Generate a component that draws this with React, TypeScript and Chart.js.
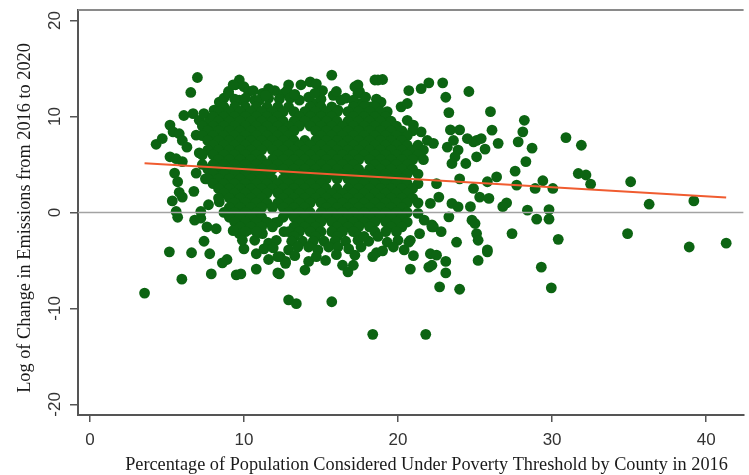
import { useEffect, useRef } from 'react';
import { Chart, registerables } from 'chart.js';
Chart.register(...registerables);

const xTicks = [0, 10, 20, 30, 40];
const yTicks = [-20, -10, 0, 10, 20];
const xTitle = 'Percentage of Population Considered Under Poverty Threshold by County in 2016';
const yTitle = 'Log of Change in Emissions from 2016 to 2020';

const fitX = [3.55, 41.3];
const fitY = [5.13, 1.55];

type P = [number, number];

const leftTail: P[] = [
  [3.55, -8.4], [4.3, 7.1], [4.7, 7.7], [5.2, 9.1], [5.4, 8.4], [5.8, 8.2], [6.0, 7.5],
  [6.1, 10.1], [6.7, 10.3], [7.1, 9.6], [7.4, 10.3], [7.7, 9.4], [6.55, 12.5], [6.98, 14.06],
  [5.2, 5.8], [5.6, 5.6], [6.0, 5.3], [6.3, 6.8], [6.9, 8.05], [7.5, 8.05], [7.1, 6.2],
  [5.5, 4.1], [5.7, 3.2], [5.8, 2.1], [6.0, 1.6], [5.35, 1.2], [5.6, 0.1],
  [6.9, 4.1], [6.75, 2.2], [7.5, 3.5],
  [5.7, -0.5], [6.8, -0.8], [7.2, -0.6], [7.6, -1.5], [8.2, -1.7], [7.2, 0.1], [7.7, 0.8], [8.4, 1.1],
  [5.16, -4.1], [5.97, -6.95], [6.6, -4.2], [7.78, -4.3], [7.41, -3.0], [7.88, -6.4], [8.6, -5.25],
  [8.9, -4.9], [9.5, -6.5], [9.8, -6.4], [10.0, -3.8], [10.8, -4.3], [10.8, -5.9], [11.6, -4.9],
  [12.3, -6.4], [12.9, -9.1], [13.4, -9.5],
  [9.45, -0.3], [9.7, -2.2], [10.3, -1.8], [10.7, -2.9], [11.2, -2.2], [11.6, -3.2], [12.1, -2.9],
  [12.6, -2.0], [12.0, -1.1], [12.35, -4.6], [12.7, -5.1],
];

const upperEdge: P[] = [
  [8.06, 10.66], [8.4, 11.5], [8.7, 11.9], [9.0, 12.6], [9.45, 13.3], [9.7, 13.8], [10.0, 13.1],
  [10.3, 12.6], [10.7, 11.7], [11.2, 12.4], [11.6, 11.9], [12.0, 12.7], [12.6, 12.4], [12.9, 13.3],
  [10.6, 12.7], [11.6, 12.9], [9.3, 13.3], [9.0, 12.4], [9.7, 11.7], [10.7, 10.5],
  [12.8, 12.7], [13.7, 13.3], [14.3, 13.6], [14.7, 13.4], [15.1, 12.7], [15.8, 12.2], [16.3, 11.7],
  [17.4, 13.3], [17.5, 12.6], [18.5, 13.8], [15.7, 14.3], [17.2, 13.1], [17.4, 12.4],
  [14.5, 11.35], [14.9, 11.0], [15.25, 10.3], [16.1, 10.66], [17.0, 10.66], [17.6, 11.35], [18.25, 11.0],
  [18.7, 13.8], [19.0, 13.85], [20.7, 12.7], [21.5, 12.9], [22.0, 13.5], [22.9, 13.5], [24.6, 12.6],
  [23.1, 12.0], [23.3, 10.4], [20.2, 11.0], [20.6, 11.35], [18.9, 11.5], [19.3, 10.5], [18.1, 11.0],
  [20.6, 9.6], [21.0, 9.1], [21.5, 8.4], [21.9, 7.5], [22.3, 7.2], [23.4, 8.6], [24.0, 8.6],
  [24.5, 7.7], [23.6, 7.5], [24.9, 7.35],
  [9.4, 11.8], [10.1, 11.9], [11.0, 11.7], [12.3, 11.8], [13.0, 11.9], [13.6, 11.7], [14.2, 12.0],
  [15.0, 11.8], [16.6, 11.9], [17.1, 11.7], [17.9, 12.0], [18.6, 11.8], [11.4, 12.2], [13.3, 12.3],
  [14.6, 12.4], [16.0, 12.6],
];

// dense core: each row is [log change, poverty percentages along that row]
const coreRows: [number, number[]][] = [
  [11.0, [8.7, 9.4, 10.1, 10.8, 11.5, 12.2, 12.9, 14.3, 15.0, 15.7, 17.1, 17.8, 18.5]],
  [10.5, [8.35, 9.05, 9.75, 10.45, 11.15, 11.85, 12.55, 13.25, 13.95, 14.65, 15.35, 16.05, 16.75, 17.45, 18.15, 18.85]],
  [10.0, [8.0, 8.7, 9.4, 10.1, 10.8, 11.5, 12.2, 13.6, 14.3, 15.0, 15.7, 17.1, 17.8, 18.5, 19.2]],
  [9.5, [8.35, 9.05, 9.75, 10.45, 11.15, 11.85, 12.55, 13.25, 13.95, 14.65, 15.35, 16.05, 16.75, 17.45, 18.15, 18.85, 19.55]],
  [9.0, [7.3, 8.0, 8.7, 9.4, 10.1, 10.8, 11.5, 12.2, 12.9, 13.6, 14.3, 15.0, 15.7, 16.4, 17.1, 17.8, 18.5, 19.2, 19.9]],
  [8.5, [7.65, 8.35, 9.05, 9.75, 10.45, 11.15, 11.85, 12.55, 13.25, 14.65, 15.35, 16.05, 16.75, 17.45, 18.15, 18.85, 19.55, 20.25, 20.95]],
  [8.0, [7.3, 8.0, 8.7, 9.4, 10.1, 10.8, 11.5, 12.2, 12.9, 15.0, 15.7, 16.4, 17.1, 17.8, 18.5, 19.2, 19.9, 20.6]],
  [7.5, [7.65, 8.35, 9.05, 9.75, 10.45, 11.15, 11.85, 12.55, 13.25, 13.95, 14.65, 15.35, 16.05, 16.75, 17.45, 18.15, 18.85, 19.55, 20.25]],
  [7.0, [8.0, 8.7, 9.4, 10.1, 10.8, 11.5, 12.2, 12.9, 13.6, 14.3, 15.0, 15.7, 16.4, 17.1, 17.8, 18.5, 19.2, 19.9, 20.6, 21.3]],
  [6.5, [7.65, 8.35, 9.05, 9.75, 10.45, 11.15, 11.85, 12.55, 13.25, 13.95, 14.65, 15.35, 16.05, 16.75, 17.45, 18.15, 18.85, 19.55, 20.25, 20.95, 21.65]],
  [6.0, [7.3, 8.0, 8.7, 9.4, 10.1, 10.8, 12.2, 12.9, 13.6, 14.3, 15.0, 15.7, 16.4, 17.1, 17.8, 18.5, 19.2, 19.9, 20.6, 21.3]],
  [5.5, [8.35, 9.05, 9.75, 10.45, 11.15, 11.85, 12.55, 13.25, 13.95, 14.65, 15.35, 16.05, 16.75, 17.45, 18.15, 18.85, 19.55, 20.25, 20.95, 21.65]],
  [5.0, [7.3, 8.0, 8.7, 9.4, 10.1, 10.8, 11.5, 12.2, 12.9, 13.6, 14.3, 15.0, 15.7, 16.4, 17.1, 18.5, 19.2, 19.9, 20.6]],
  [4.5, [7.65, 8.35, 9.05, 9.75, 10.45, 11.15, 11.85, 12.55, 13.25, 13.95, 14.65, 15.35, 16.05, 16.75, 17.45, 18.15, 18.85, 19.55, 20.25, 20.95]],
  [4.0, [8.0, 8.7, 9.4, 10.1, 10.8, 11.5, 12.9, 13.6, 14.3, 15.0, 15.7, 16.4, 17.1, 17.8, 18.5, 19.2, 19.9, 20.6, 21.3]],
  [3.5, [7.65, 8.35, 9.05, 9.75, 10.45, 11.15, 11.85, 12.55, 13.25, 13.95, 14.65, 15.35, 16.05, 16.75, 17.45, 18.15, 18.85, 19.55, 20.25]],
  [3.0, [8.0, 8.7, 9.4, 10.1, 10.8, 11.5, 12.2, 12.9, 13.6, 14.3, 15.0, 17.1, 17.8, 18.5, 19.2, 19.9, 20.6, 21.3]],
  [2.5, [8.35, 9.05, 9.75, 10.45, 11.15, 11.85, 12.55, 13.25, 13.95, 14.65, 15.35, 16.05, 16.75, 17.45, 18.15, 18.85, 19.55, 20.25, 20.95]],
  [2.0, [8.7, 9.4, 10.1, 10.8, 11.5, 12.2, 12.9, 13.6, 14.3, 15.0, 15.7, 16.4, 17.1, 17.8, 18.5, 19.2, 19.9, 20.6]],
  [1.5, [8.35, 9.05, 9.75, 10.45, 11.15, 12.55, 13.25, 13.95, 14.65, 15.35, 16.05, 16.75, 17.45, 18.15, 18.85, 19.55, 20.25, 20.95]],
  [1.0, [9.4, 10.1, 10.8, 11.5, 12.2, 12.9, 13.6, 14.3, 15.0, 15.7, 16.4, 17.1, 17.8, 18.5, 19.2, 19.9, 20.6, 21.3]],
  [0.5, [9.05, 9.75, 10.45, 11.15, 11.85, 12.55, 13.25, 13.95, 15.35, 16.05, 16.75, 17.45, 18.15, 18.85, 19.55, 20.25]],
  [0.0, [8.7, 9.4, 10.1, 10.8, 12.9, 13.6, 14.3, 15.0, 15.7, 16.4, 17.1, 17.8, 18.5, 19.2, 19.9, 20.6]],
  [-0.5, [9.05, 9.75, 10.45, 11.15, 12.55, 13.25, 13.95, 14.65, 15.35, 16.05, 16.75, 17.45, 18.15, 18.85, 19.55, 20.25]],
  [-1.0, [9.4, 10.1, 10.8, 11.5, 12.2, 13.6, 14.3, 15.0, 15.7, 16.4, 17.1, 17.8, 18.5, 19.2, 19.9, 20.6]],
  [-1.5, [9.75, 10.45, 11.15, 11.85, 13.25, 13.95, 14.65, 16.05, 16.75, 17.45, 18.15, 19.55, 20.25]],
  [-2.0, [10.1, 10.8, 12.9, 13.6, 14.3, 15.0, 15.7, 16.4, 17.1, 18.5, 19.2, 19.9]],
  [-2.5, [13.25, 14.65, 16.05, 17.45]],
  [-3.0, [13.1, 13.8, 14.5, 15.2, 15.9, 16.6, 18.1]],
];

const lowerTail: P[] = [
  [15.7, -9.3], [18.36, -12.7], [21.8, -12.7], [20.8, -5.9], [22.0, -5.7], [12.2, -6.3],
  [13.96, -6.0], [14.2, -5.1], [16.4, -5.5], [16.75, -6.2], [17.2, -4.45], [17.1, -5.5],
  [18.36, -4.6], [18.6, -4.2], [20.4, -3.9], [20.7, -3.1], [22.1, -4.3], [22.2, -1.3],
  [12.7, -5.3], [12.2, -4.6], [12.9, -3.9], [13.5, -3.6], [14.2, -3.6], [14.8, -3.9], [15.5, -3.6],
  [16.1, -3.6], [17.4, -2.9], [17.8, -2.5], [18.7, -2.5], [19.3, -3.1], [20.0, -2.9], [20.8, -2.9],
  [21.7, -0.8], [21.3, -0.1], [22.3, -1.5],
  [11.3, -3.8], [13.3, -4.5], [14.7, -4.6], [15.3, -5.0], [16.0, -4.4], [16.8, -3.8], [17.6, -3.6],
  [19.0, -4.0], [19.7, -3.6], [21.0, -4.5], [21.4, -2.2], [11.9, -3.7], [9.9, -2.9], [9.3, -1.9],
];

const rightTail: P[] = [
  [26.0, 10.5], [23.2, 6.8], [23.9, 6.5], [23.7, 5.8], [26.1, 8.57], [25.1, 7.5], [25.4, 7.7],
  [26.5, 7.2], [25.65, 6.6], [25.1, 5.8], [28.2, 9.6], [28.1, 8.4], [27.8, 7.35], [28.7, 6.7],
  [28.3, 5.3], [30.9, 7.8], [31.9, 7.0], [31.7, 4.06], [32.2, 3.9], [32.5, 2.95], [35.1, 3.2],
  [36.3, 0.86], [39.2, 1.2], [34.9, -2.2], [38.9, -3.6], [41.3, -3.2], [30.4, -2.8], [29.8, -0.7],
  [29.8, 0.3], [29.0, -0.7], [28.4, 0.24], [30.05, 2.5], [29.4, 3.3], [28.9, 2.5], [27.6, 4.3],
  [27.7, 2.85], [27.05, 1.0], [26.8, 0.6], [27.4, -2.2], [26.4, 3.7], [25.8, 3.2], [24.9, 2.5],
  [24.7, 0.6], [25.3, 1.6], [25.9, 1.46], [24.8, -0.8], [25.0, -1.15], [25.1, -2.2], [25.2, -2.9],
  [25.8, -3.9], [23.8, -3.1], [23.3, -0.46], [22.2, -1.5], [22.8, -2.0], [22.1, 0.94], [22.65, 1.6],
  [23.5, 0.94], [23.9, 0.58], [24.0, 3.5], [24.4, 5.1], [23.5, 5.1], [22.5, 3.0],
  [25.2, -5.0], [25.8, -4.1], [29.3, -5.7], [29.95, -7.85], [22.7, -7.75], [24.0, -8.0],
  [23.1, -6.3], [23.1, -5.1], [22.2, -5.5], [22.5, -4.45],
];

const X_MIN = -0.77;
const X_MAX = 42.43;
const Y_MIN = -21.1;
const Y_MAX = 21.09;

const framePlugin = {
  id: 'stataFrame',
  afterDraw(chart: any) {
    const { ctx, chartArea, scales } = chart;
    const xs = scales.x;
    const ys = scales.y;
    ctx.save();
    ctx.strokeStyle = '#8a8a8a';
    ctx.lineWidth = 2;
    ctx.beginPath();
    ctx.moveTo(chartArea.left, chartArea.top);
    ctx.lineTo(chartArea.right, chartArea.top);
    ctx.stroke();

    ctx.fillStyle = '#333';
    ctx.font = '17px "Liberation Sans", Arial, sans-serif';
    ctx.textAlign = 'center';
    ctx.textBaseline = 'middle';
    xTicks.forEach((v) => {
      ctx.fillText(String(v), xs.getPixelForValue(v), 440);
    });
    yTicks.forEach((v) => {
      ctx.save();
      ctx.translate(55, ys.getPixelForValue(v));
      ctx.rotate(-Math.PI / 2);
      ctx.fillText(String(v), 0, 0);
      ctx.restore();
    });

    ctx.fillStyle = '#1a1a1a';
    const serif = '"Liberation Serif", "Times New Roman", serif';
    ctx.font = `100px ${serif}`;
    const xw = ctx.measureText(xTitle).width;
    ctx.font = `${(100 * 603) / xw}px ${serif}`;
    ctx.fillText(xTitle, 426.5, 465);

    ctx.font = `100px ${serif}`;
    const yw = ctx.measureText(yTitle).width;
    ctx.font = `${(100 * 350) / yw}px ${serif}`;
    ctx.save();
    ctx.translate(25, 218);
    ctx.rotate(-Math.PI / 2);
    ctx.fillText(yTitle, 0, 0);
    ctx.restore();
    ctx.restore();
  },
};

export default function App() {
  const ref = useRef<HTMLCanvasElement | null>(null);
  useEffect(() => {
    if (!ref.current) return;
    const corePts: P[] = [];
    coreRows.forEach(([y, xs]) => xs.forEach((x) => corePts.push([x, y])));
    const pts = [...leftTail, ...upperEdge, ...corePts, ...lowerTail, ...rightTail].map(([x, y]) => ({ x, y }));
    const chart = new Chart(ref.current, {
      type: 'scatter',
      data: {
        datasets: [
          {
            type: 'line',
            data: fitX.map((x, i) => ({ x, y: fitY[i] })),
            borderColor: 'rgb(240,92,48)',
            borderWidth: 2,
            pointRadius: 0,
            order: 1,
          } as any,
          {
            type: 'line',
            data: [
              { x: X_MIN, y: 0 },
              { x: X_MAX, y: 0 },
            ],
            borderColor: '#a3a3a3',
            borderWidth: 1.5,
            pointRadius: 0,
            order: 2,
          } as any,
          {
            data: pts,
            backgroundColor: 'rgb(12,100,18)',
            borderWidth: 0,
            pointRadius: 5.4,
            pointHoverRadius: 5.4,
            order: 3,
          },
        ],
      },
      options: {
        animation: false,
        responsive: false,
        devicePixelRatio: 1,
        events: [],
        layout: { padding: { top: 10, right: 0, left: 0, bottom: 0 } },
        plugins: { legend: { display: false }, tooltip: { enabled: false } },
        scales: {
          x: {
            type: 'linear',
            min: X_MIN,
            max: X_MAX,
            afterBuildTicks: (s: any) => {
              s.ticks = xTicks.map((value) => ({ value }));
            },
            afterFit: (s: any) => {
              s.height = 60;
            },
            grid: { drawOnChartArea: false, drawTicks: true, tickLength: 7, color: '#555', lineWidth: 1.5 },
            border: { display: true, color: '#555', width: 2 },
            ticks: { display: false },
          },
          y: {
            type: 'linear',
            min: Y_MIN,
            max: Y_MAX,
            afterBuildTicks: (s: any) => {
              s.ticks = yTicks.map((value) => ({ value }));
            },
            afterFit: (s: any) => {
              s.width = 78;
            },
            grid: { drawOnChartArea: false, drawTicks: true, tickLength: 8, color: '#555', lineWidth: 1.5 },
            border: { display: true, color: '#555', width: 2 },
            ticks: { display: false },
          },
        },
      },
      plugins: [framePlugin],
    });
    return () => chart.destroy();
  }, []);
  return (
    <div style={{ position: 'fixed', left: 0, top: 0, width: 749, height: 475, background: '#fff' }}>
      <canvas ref={ref} width={749} height={475} style={{ display: 'block' }} />
    </div>
  );
}
